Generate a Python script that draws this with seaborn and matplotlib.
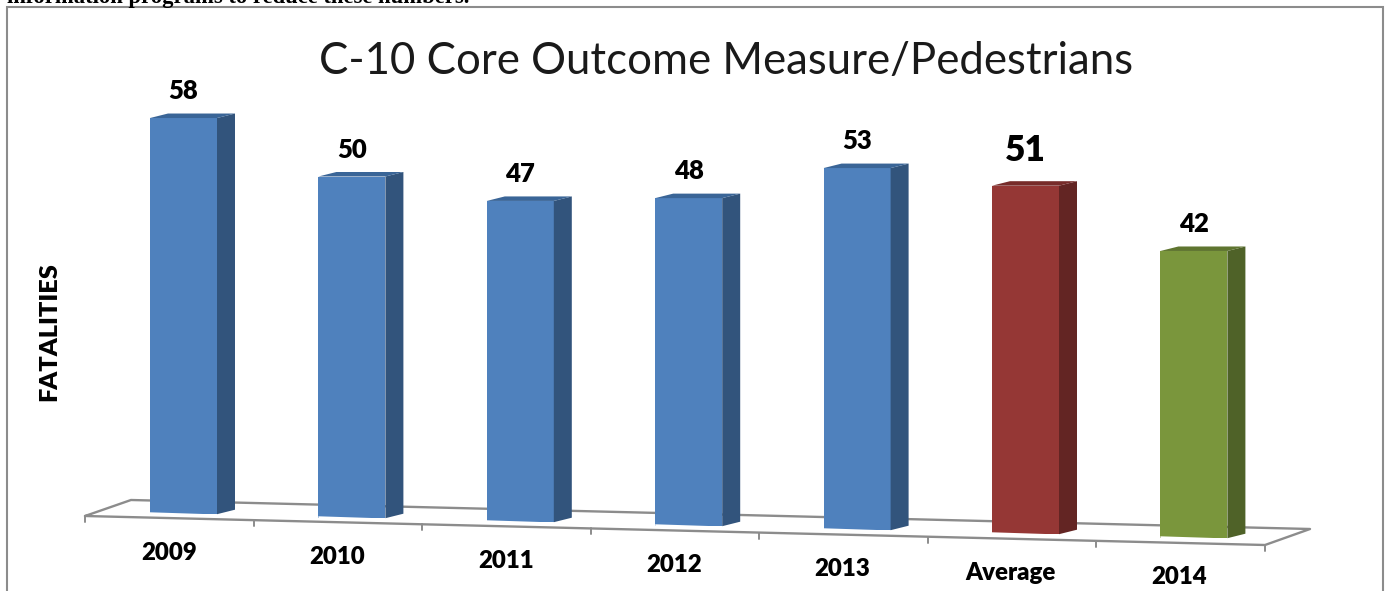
import numpy as np
import pandas as pd
import matplotlib
matplotlib.use('Agg')
import matplotlib.pyplot as plt
from matplotlib.patches import Rectangle
import seaborn as sns

# chart data
labels = ['2009', '2010', '2011', '2012', '2013', 'Average', '2014']
fatalities = [58, 50, 47, 48, 53, 51, 42]
front_colors = ['#4F81BD'] * 5 + ['#953735', '#7A963C']
side_colors = ['#32547C'] * 5 + ['#632523', '#4F6228']
top_colors = ['#3A6597'] * 5 + ['#772C2A', '#5F7530']

title = 'C-10 Core Outcome Measure/Pedestrians'
y_title = 'FATALITIES'
cut_text = 'information programs to reduce these numbers.'

W, H = 1385, 591
STEP = 168.4      # px between bars
SCALE = 6.81      # px per fatality
BASE = 513        # px row of first bar's foot
DROP = 4.0 / SCALE  # the floor runs downhill, data units per bar
DX, DY = 18 / STEP, 4.5 / SCALE  # depth of the fake 3d

sns.set_theme(style='white')
plt.rcParams['font.family'] = ['Lato', 'DejaVu Sans']

fig = plt.figure(figsize=(W / 100, H / 100), dpi=100)
ax = fig.add_axes([(183.5 - STEP / 2) / W, (H - 581.1) / H, STEP * 7 / W, 544.8 / H])

df = pd.DataFrame({'label': labels, 'fatalities': fatalities})
sns.barplot(data=df, x='label', y='fatalities', hue='label', palette=front_colors, saturation=1,
            width=67 / STEP, legend=False, ax=ax, zorder=3, linewidth=0)
ax.set_xlim(-0.5, 6.5)
ax.set_ylim(-10, 70)
ax.axis('off')


def to_x(px):
    return (px - 183.5) / STEP


def to_y(px):
    return (BASE - px) / SCALE


# floor
floor_x = [to_x(p) for p in [85, 131, 1310, 1265, 85]]
floor_y = [to_y(p) for p in [516, 500, 529, 545, 516]]
ax.plot(floor_x, floor_y, color='#8C8C8C', lw=1.7, zorder=1, clip_on=False)
tick_x = np.linspace(85, 1265, 8)
for tx in tick_x:
    ty = 516 + (tx - 85) * 29 / 1180
    ax.plot([to_x(tx)] * 2, [to_y(ty), to_y(ty + 6)], color='#8C8C8C', lw=1.4, zorder=1, clip_on=False)

# slide the bars down the floor, add side and top faces
for i, bar in enumerate(ax.patches):
    x0, w, h = bar.get_x(), bar.get_width(), bar.get_height()
    foot = -DROP * i
    sag = 1.2 / SCALE
    bar.set_y(foot - sag)
    bar.set_height(h + sag)
    top = foot + h
    ax.fill([x0 + w, x0 + w + DX, x0 + w + DX, x0 + w], [foot - sag, foot - sag + DY, top + DY, top],
            color=side_colors[i], lw=0, zorder=3)
    ax.fill([x0, x0 + DX, x0 + w + DX, x0 + w], [top, top + DY, top + DY, top],
            color=top_colors[i], lw=0, zorder=3)
    # the foot of each bar leans with the floor
    ax.fill([x0, x0 + w, x0], [foot - sag * 1.2, foot - sag * 1.2, foot + sag * 0.6],
            color='white', lw=0, zorder=3.5)
    size = 25.5 if labels[i] == 'Average' else 18.5
    gap = 35 if labels[i] == 'Average' else 27
    ax.text(i, top + gap / SCALE, str(fatalities[i]), ha='center', va='center', fontsize=size,
            fontweight='heavy', color='black', zorder=4)
    ax.text(i - 14.5 / STEP, foot - 40 / SCALE, labels[i], ha='center', va='center', fontsize=17.3,
            fontweight='heavy', color='black', zorder=4, clip_on=False)

fig.text(726 / W, 1 - 61 / H, title, ha='center', va='center', fontsize=31.5, color='#1A1A1A')
fig.text(49 / W, 1 - 332 / H, y_title, rotation=90, ha='center', va='center', fontsize=18.3,
         fontweight='heavy', color='black')

# surrounding box and the line of body text cut by the crop
fig.add_artist(Rectangle((7 / W, -0.02), (1383 - 7) / W, 1.02 - 7 / H, transform=fig.transFigure,
                         fill=False, edgecolor='#8C8C8C', lw=1.5))
fig.text(7 / W, 1 - 3 / H, cut_text, ha='left', va='baseline', fontsize=16.3, fontweight='bold',
         family='Liberation Serif', color='black')

fig.savefig('out.png', dpi=100)
